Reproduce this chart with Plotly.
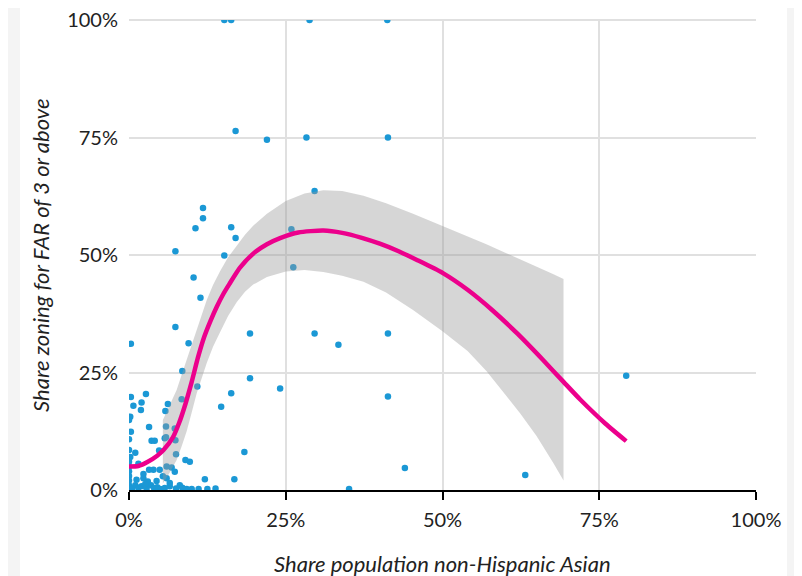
import plotly.graph_objects as go

# ---- data (percent units) ----
pts_x = [
    15.2, 16.3, 28.8, 41.2,
    17.0, 22.0, 28.3, 41.3,
    29.6,
    11.8, 11.8, 10.6, 16.3, 17.0, 25.9,
    7.4, 15.2, 26.2, 10.3, 11.4,
    7.4, 19.3, 29.6, 33.4, 41.3,
    9.5, 0.3,
    8.5, 19.3, 10.9, 24.1, 16.3, 41.3, 8.4, 14.7,
    79.3, 63.2, 44.0, 35.1,
    18.4, 9.0, 9.7, 12.1, 16.8,
    0.3, 2.7, 0.7, 2.0, 1.9, 0.2,
    0.0, 0.3, 0.0, 0.0, 0.2, 0.0, 0.0, 0.0, 0.0, 0.0, 0.0, 0.0,
    3.2, 3.6, 4.1, 4.8, 5.9, 5.9, 5.8, 6.2, 5.7, 7.3, 7.4, 7.5,
    6.0, 6.8, 3.9, 4.9, 7.3, 5.4, 3.2, 2.3, 1.5,
    1.0, 1.5, 2.0, 2.8, 3.5, 4.0, 4.5, 5.0, 5.7, 6.5, 7.5, 8.1,
    10.0, 11.1, 12.5, 13.8, 1.2, 2.3, 3.0, 6.0, 6.5, 8.5, 9.2, 0.5,
    1.0, 2.6, 4.4,
]
pts_y = [
    100, 100, 100, 100,
    76.4, 74.5, 75.0, 75.0,
    63.6,
    60.0, 57.8, 55.7, 55.9, 53.6, 55.5,
    50.8, 49.9, 47.4, 45.2, 40.9,
    34.7, 33.3, 33.3, 30.9, 33.3,
    31.2, 31.1,
    25.3, 23.8, 22.0, 21.6, 20.6, 19.9, 19.3, 17.7,
    24.3, 3.2, 4.7, 0.2,
    8.1, 6.4, 6.0, 2.3, 2.3,
    19.8, 20.4, 17.9, 18.6, 17.0, 15.6,
    14.9, 12.4, 10.8, 8.5, 7.0, 6.0, 5.0, 4.0, 3.0, 2.0, 1.0, 0.3,
    13.4, 10.5, 10.5, 8.4, 13.5, 11.2, 16.8, 18.3, 11.0, 13.1, 10.6, 7.6,
    5.0, 4.8, 4.3, 4.3, 3.9, 2.9, 4.3, 3.4, 5.6,
    1.0, 0.5, 0.8, 0.3, 1.0, 0.4, 0.6, 0.2, 0.4, 0.8, 0.3, 1.0,
    0.2, 0.2, 0.2, 0.3, 2.2, 2.5, 1.8, 2.5, 1.5, 0.5, 0.2, 0.2,
    7.9, 1.3, 1.9,
]

fit_x = [0, 1.5, 3, 4.5, 5.5, 7, 8, 9, 10, 11, 12, 13, 14, 15, 16, 17.7,
         20, 22, 24.1, 27, 31, 34, 37, 40, 43, 46, 50, 54, 58, 62, 66,
         69.3, 72, 76, 79.3]
fit_y = [5.0, 5.1, 6.0, 7.3, 8.5, 11.2, 14.3, 18.3, 23.0, 28.2, 32.6, 36.0,
         39.0, 41.6, 43.8, 47.3, 50.5, 52.3, 53.6, 54.8, 55.2, 54.7, 53.7,
         52.4, 50.8, 48.9, 46.2, 42.6, 38.2, 33.2, 27.7, 23.0, 19.2, 14.1,
         10.4]

band_x = [5.4, 6.5, 7.6, 8.4, 9.2, 10.0, 10.8, 11.6, 12.4, 13.4, 14.5, 15.8,
          17.2, 18.5, 19.8, 22, 25, 28, 31, 34, 37.4, 41, 45.3, 50, 54, 57,
          60, 62.4, 65, 67.7, 69.3]
band_upper = [14.9, 18.0, 21.3, 24.5, 27.7, 30.9, 34.0, 37.3, 40.4, 43.6,
              46.5, 49.5, 52.0, 54.3, 56.2, 58.8, 61.5, 63.1, 63.8, 63.6,
              62.6, 61.0, 58.8, 56.2, 54.0, 52.3, 50.5, 49.1, 47.5, 45.9,
              44.9]
band_lower = [1.4, 3.7, 6.4, 9.3, 12.5, 16.5, 20.6, 23.9, 27.0, 30.5, 33.5,
              37.0, 40.0, 42.2, 43.7, 45.3, 46.5, 46.8, 46.4, 45.6, 44.3,
              42.0, 38.3, 33.8, 29.6, 25.3, 20.3, 16.3, 11.5, 5.7, 2.0]

x_ticks = [0, 25, 50, 75, 100]
y_ticks = [0, 25, 50, 75, 100]

# ---- figure ----
W, H = 802, 576
L, T = 121, 12
pw, ph = 627, 470
R, B = W - L - pw, H - T - ph

fig = go.Figure()

fig.add_trace(go.Scatter(
    x=pts_x, y=pts_y, mode="markers",
    marker=dict(color="#1b98d5", size=6.5, line=dict(width=0)),
    showlegend=False, hoverinfo="skip",
))

fig.add_trace(go.Scatter(
    x=band_x + band_x[::-1], y=band_upper + band_lower[::-1],
    fill="toself", fillcolor="rgba(153,153,153,0.4)",
    line=dict(width=0), mode="lines",
    showlegend=False, hoverinfo="skip",
))

fig.add_trace(go.Scatter(
    x=fit_x, y=fit_y, mode="lines",
    line=dict(color="#ec008c", width=4.5, shape="spline", smoothing=0.6),
    showlegend=False, hoverinfo="skip",
))

font_family = "Lato, 'Noto Sans', sans-serif"
txt = "#222222"

fig.update_layout(
    width=W, height=H,
    margin=dict(l=L, r=R, t=T, b=B, pad=0, autoexpand=False),
    paper_bgcolor="#f4f4f4",
    plot_bgcolor="white",
    font=dict(family=font_family, size=20, color=txt),
    shapes=[
        dict(type="rect", xref="paper", yref="paper", layer="below",
             x0=(12 - L) / pw, x1=(779 - L) / pw,
             y0=-(B + 20) / ph, y1=1 + (T + 2) / ph,
             fillcolor="white", line=dict(width=0)),
        dict(type="line", xref="paper", yref="paper", layer="below",
             x0=0, x1=1, y0=1, y1=1,
             line=dict(color="#e0e0e0", width=2)),
    ],
    xaxis=dict(
        range=[0, 100], tickvals=x_ticks,
        ticktext=[f"{v}%" for v in x_ticks],
        showgrid=True, gridcolor="#e0e0e0", gridwidth=2,
        zeroline=False, showline=True, linecolor="black", linewidth=2,
        ticks="outside", ticklen=8, tickwidth=2, tickcolor="black",
        ticklabelstandoff=3, ticklabeloverflow="allow", automargin=False,
        tickfont=dict(size=20, color=txt),
        fixedrange=True,
    ),
    yaxis=dict(
        range=[0, 100], tickvals=y_ticks,
        ticktext=[f"{v}%" for v in y_ticks],
        showgrid=True, gridcolor="#e0e0e0", gridwidth=2,
        zeroline=False, showline=False, ticks="",
        ticklabelstandoff=10, ticklabeloverflow="allow", automargin=False,
        tickfont=dict(size=20, color=txt),
        fixedrange=True,
    ),
    annotations=[
        dict(text="<i>Share population non-Hispanic Asian</i>",
             xref="paper", yref="paper", x=0.5, y=-(555 - (T + ph)) / ph,
             xanchor="center", yanchor="middle", showarrow=False,
             font=dict(size=22, color=txt)),
        dict(text="<i>Share zoning for FAR of 3 or above</i>",
             xref="paper", yref="paper", x=(32 - L) / pw, y=0.5,
             xanchor="center", yanchor="middle", showarrow=False,
             textangle=-90, font=dict(size=22, color=txt)),
    ],
)

fig.write_html("out.html")
